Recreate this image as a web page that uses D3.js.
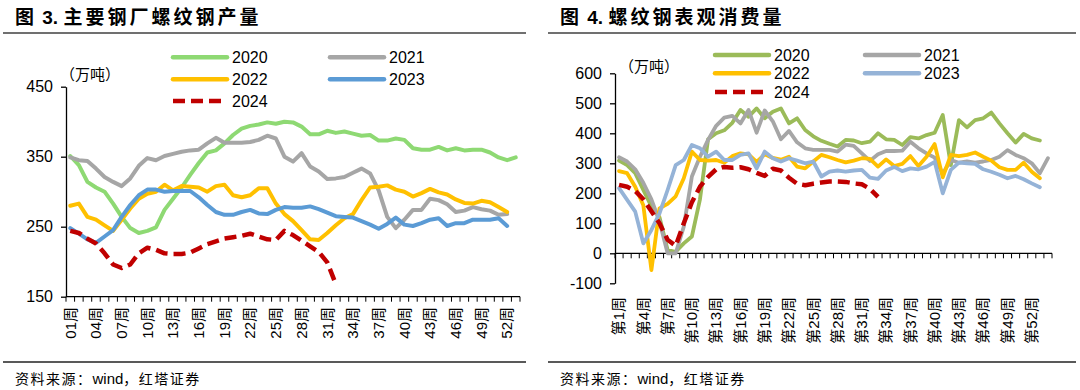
<!DOCTYPE html>
<html><head><meta charset="utf-8">
<script src="https://cdn.jsdelivr.net/npm/d3@7"></script>
<style>
body{margin:0;background:#fff;}
svg text{font-family:"Liberation Sans",Arial,"Noto Sans CJK SC",sans-serif;fill:#000;}
</style></head><body>
<svg id="c" width="1080" height="390"></svg>
<script>
// ---------- data: left chart (主要钢厂螺纹钢产量, 万吨) ----------
const leftWeeks = d3.range(1, 54);
const leftXLabels = ["01周","04周","07周","10周","13周","16周","19周","22周","25周","28周","31周","34周","37周","40周","43周","46周","49周","52周"];
const leftLabelWeeks = [1,4,7,10,13,16,19,22,25,28,31,34,37,40,43,46,49,52];
const leftYTicks = [150, 250, 350, 450];
const prod2020 = [351,338,314,306,300,283,264,248,241,244,249,274,290,306,324,341,356,359,369,381,390,394,396,399,397,400,399,393,382,382,387,384,386,383,380,381,373,373,376,374,362,360,360,364,359,362,359,360,360,356,349,345,349];
const prod2021 = [349,345,344,333,321,314,308,319,337,348,345,351,354,357,359,360,369,377,370,370,370,371,374,380,376,350,343,355,336,329,318,319,321,327,333,326,302,264,248,260,274,274,290,288,282,271,273,278,275,273,267,268];
const prod2022 = [280,283,264,260,252,244,260,276,290,297,300,310,302,308,307,306,300,308,310,295,292,295,305,305,283,268,258,245,232,231,241,252,262,268,288,306,307,309,303,300,293,298,304,299,296,289,284,283,287,285,278,271];
const prod2023 = [248,240,232,227,236,245,264,281,295,303,303,300,301,301,301,292,281,271,267,267,271,274,269,268,274,278,277,277,279,275,270,265,264,263,258,253,247,254,263,253,251,255,260,262,251,255,255,260,260,260,262,251];
const prod2024 = [244,241,233,226,212,196,191,196,212,220,217,212,211,211,213,219,225,229,233,235,237,240,236,232,231,244,238,230,222,214,199,168];

// ---------- data: right chart (螺纹钢表观消费量, 万吨) ----------
const rightWeeks = d3.range(1, 55);
const rightXLabels = ["第1周","第4周","第7周","第10周","第13周","第16周","第19周","第22周","第25周","第28周","第31周","第34周","第37周","第40周","第43周","第46周","第49周","第52周"];
const rightLabelWeeks = [1,4,7,10,13,16,19,22,25,28,31,34,37,40,43,46,49,52];
const rightYTicks = [-100, 0, 100, 200, 300, 400, 500, 600];
const cons2020 = [309,294,267,211,156,120,11,5,33,56,180,380,400,410,435,478,455,483,450,472,483,433,450,411,390,375,365,356,378,376,367,372,400,380,378,361,387,383,394,402,461,294,444,420,444,450,469,433,400,369,398,383,376];
const cons2021 = [320,306,280,235,180,106,0,0,89,256,322,378,425,452,458,433,478,402,476,440,380,408,370,350,345,345,345,339,362,358,333,308,330,341,341,342,372,350,333,319,265,311,302,306,302,306,311,322,344,328,317,300,267,317];
const cons2022 = [274,267,222,160,-56,150,165,190,250,339,311,309,311,302,324,333,330,305,330,318,312,322,289,283,306,328,320,311,303,309,317,315,289,313,291,298,324,291,322,364,253,328,324,328,336,322,309,287,278,278,302,272,250];
const cons2023 = [217,178,139,33,78,133,211,294,311,361,350,322,339,311,311,328,333,283,339,317,306,317,309,300,306,256,272,276,272,276,278,252,248,276,288,274,283,280,289,305,200,278,302,300,298,280,272,262,250,258,247,233,220];
const cons2024 = [228,222,208,180,140,100,45,25,100,170,222,255,280,288,285,287,280,268,258,282,276,252,232,227,232,236,239,239,238,233,230,215,188];

const years = ["2020","2021","2022","2023","2024"];

const svg = d3.select("#c");
const CJK = '"Noto Sans CJK SC",sans-serif';
const LAT = '"Liberation Sans",Arial,sans-serif';

function panel(o){
  const g = svg.append("g");
  // title
  const t = g.append("text").attr("x", o.tx).attr("y", 24)
    .style("font-size","19px").style("font-weight","bold");
  t.append("tspan").style("font-family", CJK).style("letter-spacing","3px").text("图");
  t.append("tspan").style("font-family", LAT).text(" " + o.num + ". ");
  t.append("tspan").style("font-family", CJK).style("letter-spacing","3px").text(o.title);
  g.append("line").attr("x1", o.rx0).attr("x2", o.rx1).attr("y1", 33).attr("y2", 33)
    .attr("stroke", "#404040").attr("stroke-width", 1.5);
  g.append("line").attr("x1", o.rx0).attr("x2", o.rx1).attr("y1", 362).attr("y2", 362)
    .attr("stroke", "#595959").attr("stroke-width", 2);
  const s = g.append("text").attr("x", o.tx).attr("y", 384).style("font-size","14px");
  s.append("tspan").style("font-family", CJK).style("letter-spacing","1.5px").text("资料来源：");
  s.append("tspan").style("font-family", LAT).style("font-size","15px").text("wind");
  s.append("tspan").style("font-family", CJK).style("letter-spacing","1.5px").text("，红塔证券");

  const x = d3.scaleBand().domain(o.weeks).range(o.xr).padding(0);
  const y = d3.scaleLinear().domain(o.yd).range(o.yr);
  const bw = x.bandwidth();

  // y axis
  const ya = g.append("g").attr("transform", `translate(${o.xr[0]},0)`)
    .call(d3.axisLeft(y).tickValues(o.yTicks).tickSize(5).tickSizeOuter(0).tickPadding(8).tickFormat(d=>d<0?"-"+Math.abs(d):d));
  ya.selectAll("text").style("font-size","16px").style("font-family", LAT);
  ya.selectAll("line,path").attr("stroke","#000").attr("stroke-width",1.3);

  // x axis
  const y0 = y(o.xAxisAt);
  g.append("line").attr("x1", o.xr[0]).attr("x2", o.xr[1]).attr("y1", y0).attr("y2", y0)
    .attr("stroke","#000").attr("stroke-width",1.3);
  const bounds = o.weeks.map(w => x(w)).concat([o.xr[1]]);
  g.selectAll(null).data(bounds).enter().append("line")
    .attr("x1", d=>d).attr("x2", d=>d).attr("y1", y0).attr("y2", y0+5)
    .attr("stroke","#000").attr("stroke-width",1);
  g.selectAll(null).data(o.labelWeeks).enter().append("text")
    .attr("transform", (d)=>`translate(${x(d)+bw/2},${o.labelY}) rotate(-90)`)
    .attr("text-anchor","end").attr("dy","0.35em")
    .style("font-size","15px")
    .text((d,i)=>o.xLabels[i]);

  // unit label
  g.append("text").attr("x", o.unit[0]).attr("y", o.unit[1]).style("font-size","15px")
    .style("font-family", CJK).text("（万吨）");

  // lines
  const line = d3.line().x((d,i)=>x(o.weeks[i])+bw/2).y(d=>y(d));
  o.series.forEach((s,k)=>{
    g.append("path").datum(s).attr("d", line).attr("fill","none")
      .attr("stroke", o.colors[k]).attr("stroke-width", o.sw[k])
      .attr("stroke-linejoin","round").attr("stroke-linecap", k===4?"butt":"round")
      .attr("stroke-dasharray", k===4?"12,6":null);
  });

  // legend
  o.legend.forEach((L,k)=>{
    g.append("line").attr("x1",L[0]).attr("x2",L[0]+o.legLen).attr("y1",L[1]).attr("y2",L[1])
      .attr("stroke", o.colors[k]).attr("stroke-width", o.legW)
      .attr("stroke-linecap", k===4?"butt":"round")
      .attr("stroke-dasharray", k===4?"12,6":null);
    g.append("text").attr("x", L[0]+o.legLen+5).attr("y", L[1]+6).style("font-size","16px").text(years[k]);
  });
}

panel({
  num:"3", title:"主要钢厂螺纹钢产量", tx:15, rx0:3, rx1:526,
  weeks:leftWeeks, xr:[66,520], yd:[150,450], yr:[296.7,86.7], yTicks:leftYTicks, xAxisAt:150,
  labelWeeks:leftLabelWeeks, xLabels:leftXLabels, labelY:307,
  unit:[60,80],
  series:[prod2020,prod2021,prod2022,prod2023,prod2024],
  colors:["#8ED973","#A6A6A6","#FFC000","#5B9BD5","#C00000"],
  sw:[4,4,4,4,4.5],
  legend:[[173,57.3],[330,57.3],[173,79.3],[330,79.3],[173,101]], legLen:54, legW:4.5
});

panel({
  num:"4", title:"螺纹钢表观消费量", tx:560, rx0:548, rx1:1076,
  weeks:rightWeeks, xr:[615,1052], yd:[-100,600], yr:[283.3,73.3], yTicks:rightYTicks, xAxisAt:0,
  labelWeeks:rightLabelWeeks, xLabels:rightXLabels, labelY:297,
  unit:[619,72],
  series:[cons2020,cons2021,cons2022,cons2023,cons2024],
  colors:["#9BBB59","#A6A6A6","#FFC000","#95B3D7","#C00000"],
  sw:[3.8,3.8,3.8,3.8,4.5],
  legend:[[715,55],[865,55],[715,73.3],[865,73.3],[715,92]], legLen:54, legW:4.5
});
</script>
</body></html>
